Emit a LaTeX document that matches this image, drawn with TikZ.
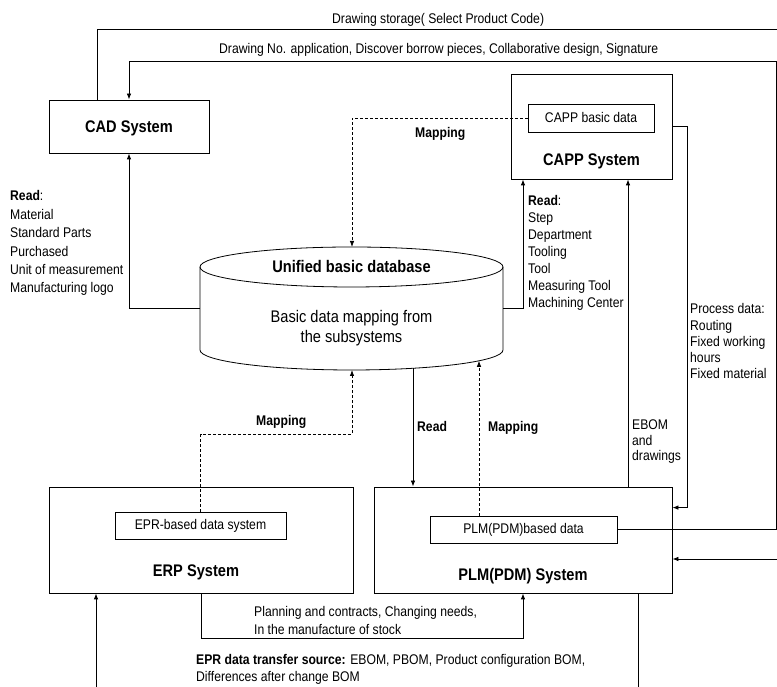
\documentclass[tikz,border=0pt]{standalone}
\usepackage{fontspec}
\setmainfont{Liberation Sans}[FakeStretch=0.87]
\usetikzlibrary{arrows.meta}
\begin{document}
\begin{tikzpicture}[x=1pt,y=1pt,
  box/.style={draw, line width=0.8pt, inner sep=0pt},
  lbl/.style={font=\fontsize{14}{17}\selectfont, inner sep=0pt},
  ttl/.style={font=\fontsize{16.8}{20}\selectfont\bfseries, inner sep=0pt},
  big/.style={font=\fontsize{16.8}{20}\selectfont, inner sep=0pt},
  conn/.style={line width=0.8pt},
  arr/.style={conn, -{Latex[length=6pt,width=4.5pt]}},
  map/.style={arr, dash pattern=on 3pt off 2pt},
]
\useasboundingbox (0,0) rectangle (777,687);
\fill[white] (0,0) rectangle (777,687);

% boxes
\node[box, minimum width=160pt, minimum height=53pt] (cad) at (129,560.5) {};
\node[ttl, anchor=base] (cadt) at (129,554) {CAD System};
\node[box, minimum width=161pt, minimum height=105pt] (capp) at (591.5,560.5) {};
\node[box, lbl, minimum width=126pt, minimum height=28pt] (cappd) at (591,569) {CAPP basic data};
\node[ttl, anchor=base] (cappt) at (591.5,521) {CAPP System};
\node[box, minimum width=304pt, minimum height=106pt] (erp) at (201,147) {};
\node[box, lbl, minimum width=171pt, minimum height=27pt] (erpd) at (200.5,161.5) {EPR-based data system};
\node[ttl, anchor=base] (erpt) at (196,110) {ERP System};
\node[box, minimum width=298pt, minimum height=106pt] (plm) at (523,147) {};
\node[box, lbl, minimum width=187pt, minimum height=27pt] (plmd) at (523.5,157.5) {PLM(PDM)based data};
\node[ttl, anchor=base] (plmt) at (523,106) {PLM(PDM) System};

% database cylinder
\draw[conn, fill=white] (200,420) -- (200,337) arc[start angle=180, end angle=360, x radius=151.5, y radius=20] -- (503,420);
\draw[conn] (351.5,420) ellipse [x radius=151.5, y radius=20];
\node[minimum width=303pt, minimum height=83pt, inner sep=0pt] (db) at (351.5,378.5) {};
\coordinate (dbtop) at (352,440);
\coordinate (dbbotA) at (352,317);
\coordinate (dbbotB) at (413,318.7);
\coordinate (dbbotC) at (479,326.2);
\node[ttl, anchor=base] (dbt) at (351.5,414) {Unified basic database};
\node[big, anchor=base, align=center] (dbs) at (351.5,344) {Basic data mapping from\\the subsystems};

% connectors
\draw[arr] ([xshift=-32pt]cad.north) |- (790,658) |- ([yshift=-19pt]plm.east);
\draw[arr] (plmd.east) -| (776,626) -| (cad.north);
\draw[map] (cappd.west) -| (dbtop);
\draw[arr] (db.west) -| (cad.south);
\draw[arr] (db.east) -| ([xshift=-68.5pt]capp.south);
\draw[arr] ([xshift=105pt]plm.north) -- ([xshift=105pt]plm.north |- capp.south);
\draw[arr] (capp.east) -| ([xshift=15pt,yshift=-21pt]plm.north east) -- ([yshift=-21pt]plm.north east);
\draw[map] (erpd.north) |- (352,253) -- (dbbotA);
\draw[arr] (dbbotB) -- (dbbotB |- plm.north);
\draw[map] ([xshift=-44.5pt]plmd.north) -- (dbbotC);
\draw[arr] (erp.south) |- ([yshift=-45pt]plm.south) -- (plm.south);
\draw[arr] ([xshift=115pt]plm.south) |- ([xshift=-105pt,yshift=-120pt]erp.south) -- ([xshift=-105pt]erp.south);

% labels
\node[lbl, anchor=base west] (l1) at (332,663) {Drawing storage( Select Product Code)};
\node[lbl, anchor=base west] (l2) at (219,633) {Drawing No. application, Discover borrow pieces, Collaborative design, Signature};
\node[lbl, anchor=base west] (m1) at (415,549) {\bfseries Mapping};
\node[lbl, anchor=base west] (m2) at (256,261) {\bfseries Mapping};
\node[lbl, anchor=base west] (m3) at (488,255) {\bfseries Mapping};
\node[lbl, anchor=base west] (r3) at (417,255) {\bfseries Read};
\node[lbl, anchor=base west, align=left, font=\fontsize{14}{18.4}\selectfont] (readcad) at (10,394)
  {\textbf{Read}:\\Material\\Standard Parts\\Purchased\\Unit of measurement\\Manufacturing logo};
\node[lbl, anchor=base west, align=left, font=\fontsize{14}{17}\selectfont] (readcapp) at (528,379)
  {\textbf{Read}:\\Step\\Department\\Tooling\\Tool\\Measuring Tool\\Machining Center};
\node[lbl, anchor=base west, align=left, font=\fontsize{14}{16.2}\selectfont] (proc) at (690,308.2)
  {Process data:\\Routing\\Fixed working\\hours\\Fixed material};
\node[lbl, anchor=base west, align=left, font=\fontsize{14}{15.5}\selectfont] (ebom) at (632,226)
  {EBOM\\and\\drawings};
\node[lbl, anchor=base west, align=left, font=\fontsize{14}{18}\selectfont] (plan) at (254,52)
  {Planning and contracts, Changing needs,\\In the manufacture of stock};
\node[lbl, anchor=base west, align=left, font=\fontsize{14}{17}\selectfont] (eprsrc) at (196,5)
  {\textbf{EPR data transfer source:} EBOM, PBOM, Product configuration BOM,\\Differences after change BOM};
\end{tikzpicture}
\end{document}
